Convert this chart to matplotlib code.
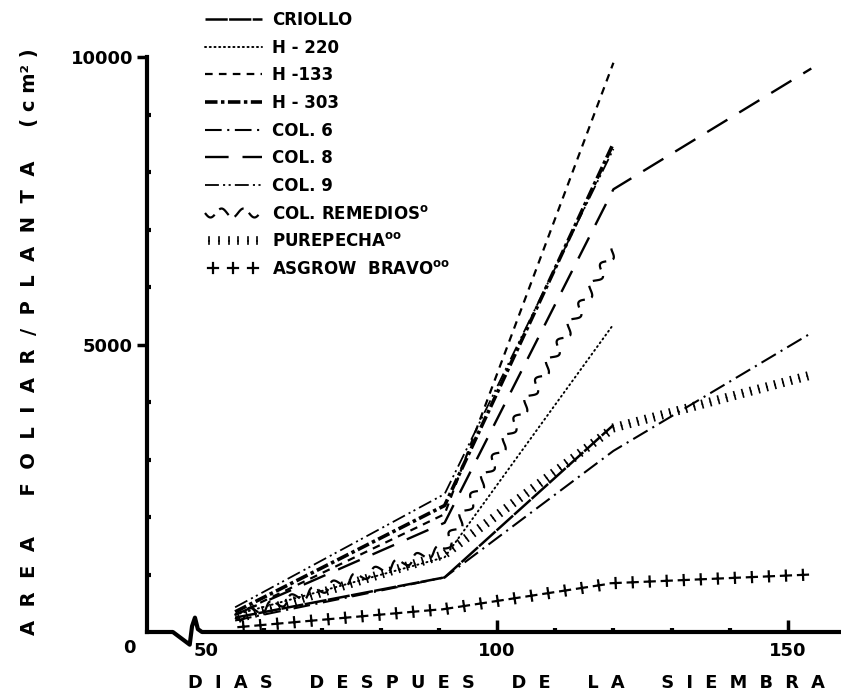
import numpy as np
import matplotlib
matplotlib.use("Agg")
import matplotlib.pyplot as plt
from matplotlib import patheffects as pe

plt.rcParams['font.family'] = ['DejaVu Sans']
plt.rcParams['font.weight'] = 'bold'
plt.rcParams['lines.scale_dashes'] = False

# ---- data (days after sowing, leaf area per plant in cm2) ----
days_short = [55, 91, 120]
days_long = [55, 91, 120, 154]

criollo = [250, 950, 3600]
h220 = [300, 1300, 5350]
h133 = [300, 2050, 9900]
h303 = [350, 2200, 8500]
col6 = [200, 950, 3150, 5200]
col8 = [300, 1900, 7700, 9800]
col9 = [430, 2400, 8400]
remedios = [250, 1450, 6650]
purepecha = [220, 1350, 3550, 4470]
bravo = [80, 400, 850, 1000]

labels = ["CRIOLLO", "H - 220", "H -133", "H - 303", "COL. 6", "COL. 8", "COL. 9",
          "COL. REMEDIOS$^{\\mathbf{o}}$", "PUREPECHA$^{\\mathbf{oo}}$",
          "ASGROW  BRAVO$^{\\mathbf{oo}}$"]

x_ticks = [50, 100, 150]
y_ticks = [5000, 10000]

W, H = 841, 694
fig = plt.figure(figsize=(W / 100, H / 100), dpi=100)
ax = fig.add_axes([147 / W, 62 / H, (840 - 147) / W, 575 / H])
xmin, xmax = 39.86, 158.93
ax.set_xlim(xmin, xmax)
ax.set_ylim(0, 10000)

k = 'black'
ax.plot(days_short, criollo, color=k, lw=1.8, dashes=(16, 1), label=labels[0])
ax.plot(days_short, h220, color=k, lw=1.4, dashes=(0.8, 2.6), dash_capstyle='round', label=labels[1])
ax.plot(days_short, h133, color=k, lw=1.6, dashes=(5.5, 4.5), label=labels[2])
ax.plot(days_short, h303, color=k, lw=2.6, dashes=(9, 2.5, 2.5, 2.5), label=labels[3])
ax.plot(days_long, col6, color=k, lw=1.5, dashes=(12, 4, 1.5, 4), label=labels[4])
ax.plot(days_long, col8, color=k, lw=1.7, dashes=(17, 10), label=labels[5])
ax.plot(days_short, col9, color=k, lw=1.3, dashes=(10, 3, 1.5, 2.5, 1.5, 3), label=labels[6])
rem, = ax.plot(days_short, remedios, color=k, lw=1.6, dashes=(9, 5), label=labels[7])
rem.set_sketch_params(4.5, 22, 1)
ax.plot(days_long, purepecha, color=k, lw=1.2, label=labels[8],
        path_effects=[pe.TickedStroke(spacing=6, angle=90, length=0.45),
                      pe.TickedStroke(spacing=6, angle=-90, length=0.45)])
ax.plot(days_long, bravo, color=k, lw=1.6, label=labels[9],
        path_effects=[pe.TickedStroke(spacing=12, angle=a, length=0.3) for a in (0, 90, 180, 270)])

# axes styling
for s in ('top', 'right', 'bottom'):
    ax.spines[s].set_visible(False)
ax.spines['left'].set_linewidth(3)

# broken x axis line
bx = [xmin, 44.3, 47.2, 47.6, 48.1, 48.6, 49.3, xmax]
by = [0, 0, -220, 100, 250, 50, 0, 0]
ax.plot(bx, by, color=k, lw=3, clip_on=False)

ax.set_xticks(x_ticks)
ax.set_xticklabels([str(v) for v in x_ticks])
ax.set_xticks(np.arange(60, 151, 10), minor=True)
ax.tick_params(axis='x', which='major', direction='in', length=9, width=2.5, labelsize=13, pad=7)
ax.tick_params(axis='x', which='minor', direction='in', length=3, width=3)
ax.xaxis.get_major_ticks()[0].tick1line.set_visible(False)

ax.set_yticks(y_ticks)
ax.set_yticklabels([str(v) for v in y_ticks])
ax.set_yticks(np.arange(1000, 10000, 1000), minor=True)
ax.tick_params(axis='y', which='major', direction='out', length=7, width=2.5, labelsize=13, pad=3)
ax.tick_params(axis='y', which='minor', direction='in', length=3, width=3)

ax.text(36.9, -280, "0", ha='center', va='center', fontsize=13, fontweight='bold', clip_on=False)

leg = ax.legend(loc='upper left', bbox_to_anchor=(205 / W, 1 - 11 / H), bbox_transform=fig.transFigure,
                frameon=False, fontsize=12, handlelength=3.4, handletextpad=0.6,
                labelspacing=0.58, borderaxespad=0, borderpad=0)

xlabel = "D  I  A  S      D  E  S  P  U  E  S      D  E      L  A      S  I  E  M  B  R  A"
ylabel = "A  R  E  A      F  O  L  I  A  R  /  P  L  A  N  T  A     ( c m² )"
fig.text(506 / W, 1 - 683 / H, xlabel, ha='center', va='center', fontsize=12.8, fontweight='bold')
fig.text(30 / W, 1 - 342 / H, ylabel, rotation=90, ha='center', va='center', fontsize=14, fontweight='bold')

fig.savefig("out.png", dpi=100)
